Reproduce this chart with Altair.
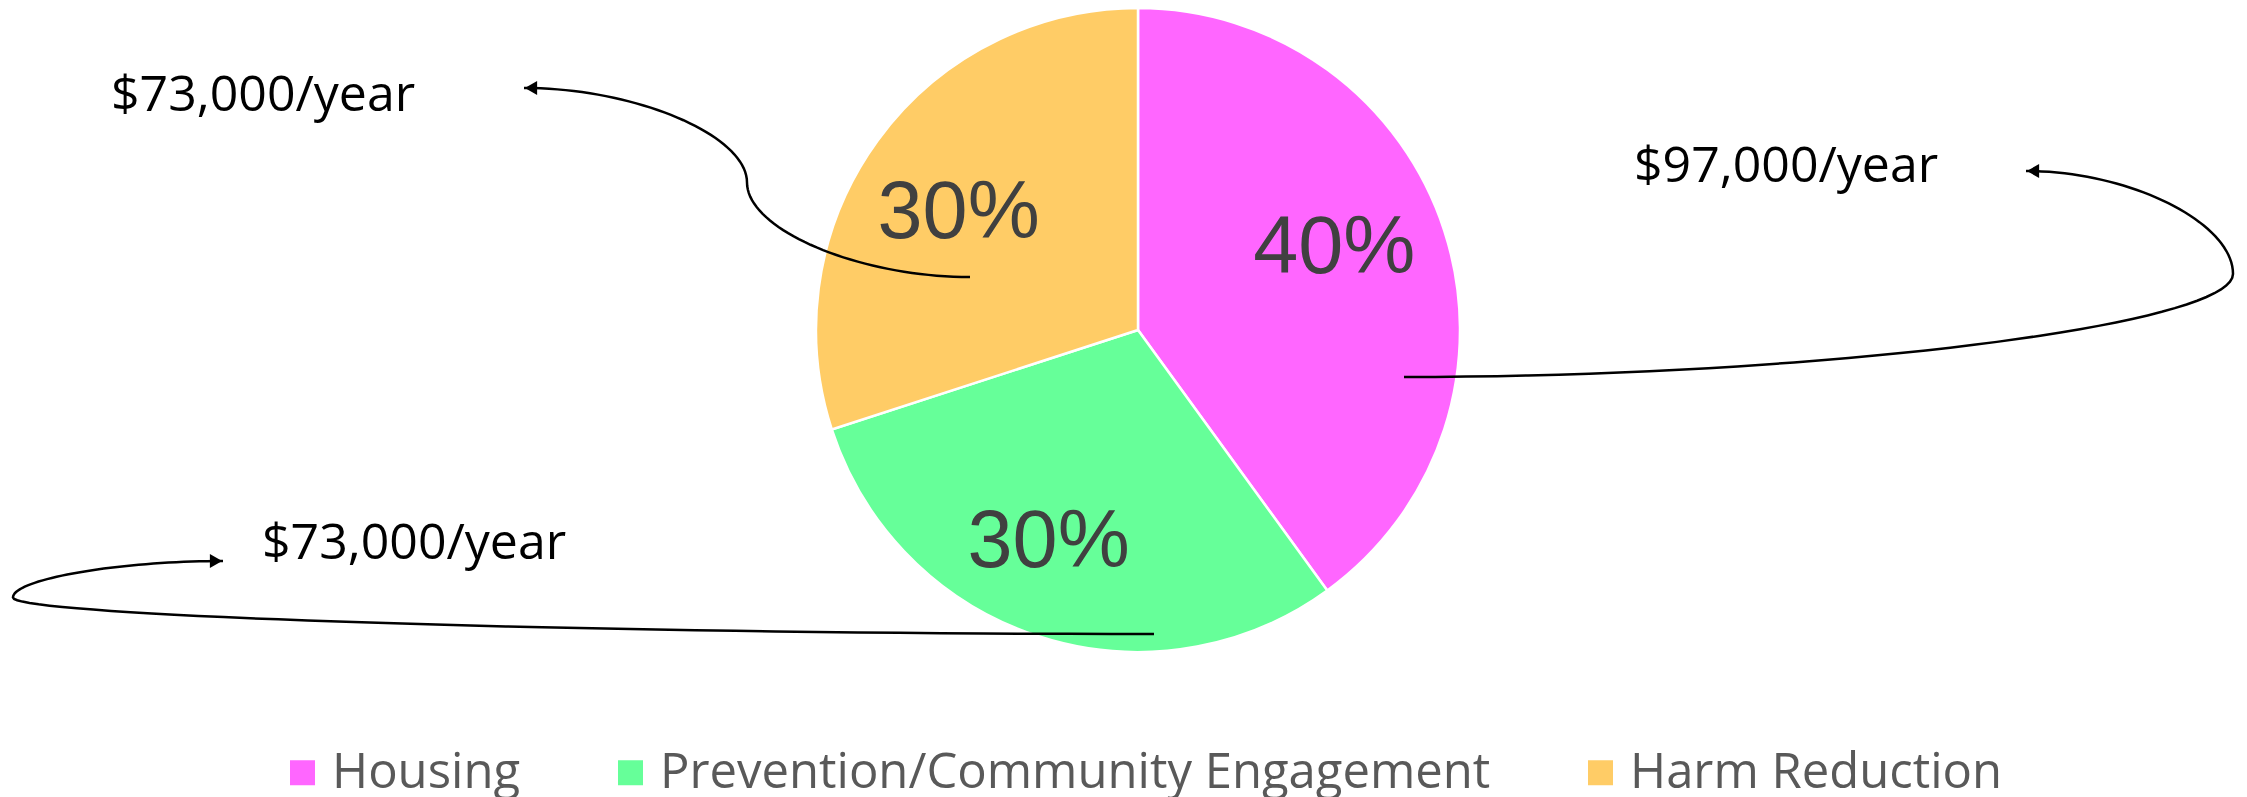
import altair as alt
import pandas as pd

# ---- data ----
categories = ["Housing", "Prevention/Community Engagement", "Harm Reduction"]
shares = [40, 30, 30]
share_labels = ["40%", "30%", "30%"]
colors = ["#FF66FF", "#66FF99", "#FFCC66"]

cost_labels = ["$73,000/year", "$97,000/year", "$73,000/year"]

# annotation geometry (chart pixel space, y measured from top)
W, H = 2231, 789
label_x = [103, 1626, 254]
label_y = [103, 174, 551]
# connectors: start point (inside slice), end point (at arrow tip), bend x
conn_start = [(962, 269), (1396, 369), (1146, 626)]
conn_end = [(516, 80), (2018, 163), (215, 553)]
conn_bend_x = [739, 2225, 5]
arrow_shape = ["triangle-left", "triangle-left", "triangle-right"]

# per-slice nudges for the percentage labels (pixels), in category order
pct_dx = [-11, -22, -3]
pct_dy = [-14, 6, 12]

PIE_CX, PIE_CY, PIE_R = 1130, 322, 322


def bez(p0, p1, p2, p3, n=40):
    pts = []
    for i in range(n + 1):
        t = i / n
        a = (1 - t) ** 3
        b = 3 * (1 - t) ** 2 * t
        c = 3 * (1 - t) * t ** 2
        d = t ** 3
        pts.append((a * p0[0] + b * p1[0] + c * p2[0] + d * p3[0],
                    a * p0[1] + b * p1[1] + c * p2[1] + d * p3[1]))
    return pts


def curved_connector(s, e, xb):
    ym = (s[1] + e[1]) / 2
    seg1 = bez(s, ((s[0] + xb) / 2, s[1]), (xb, (s[1] + ym) / 2), (xb, ym))
    seg2 = bez((xb, ym), (xb, (ym + e[1]) / 2), ((xb + e[0]) / 2, e[1]), e)
    return seg1 + seg2[1:]


rows = []
for k in range(3):
    for j, (px, py) in enumerate(curved_connector(conn_start[k], conn_end[k], conn_bend_x[k])):
        rows.append({"cid": k, "i": j, "px": px, "py": py})
conn_df = pd.DataFrame(rows)

arrow_rows = []
for k in range(3):
    ex, ey = conn_end[k]
    off = 7 if arrow_shape[k] == "triangle-left" else -7
    arrow_rows.append({"cid": k, "px": ex + off, "py": ey, "shape": arrow_shape[k]})
arrow_df = pd.DataFrame(arrow_rows)

pie_df = pd.DataFrame({"category": categories, "share": shares,
                       "label": share_labels, "idx": [0, 1, 2]})
text_df = pd.DataFrame({"text": cost_labels, "px": label_x, "py": label_y})

xs = alt.Scale(domain=[0, W], nice=False, zero=False)
ys = alt.Scale(domain=[H, 0], nice=False, zero=False)

color = alt.Color(
    "category:N",
    scale=alt.Scale(domain=categories, range=colors),
    legend=alt.Legend(
        title=None, orient="none", direction="horizontal",
        legendX=270, legendY=740, padding=0,
        symbolType="square", symbolSize=625, symbolStrokeWidth=0,
        labelFont="Open Sans", labelFontSize=49, labelColor="#595959",
        labelOffset=5, columnPadding=85, labelLimit=2000,
    ),
    sort=categories,
)

pie = alt.Chart(pie_df).mark_arc(outerRadius=PIE_R, stroke="white", strokeWidth=2.5).encode(
    theta=alt.Theta("share:Q", stack=True),
    color=color,
    order=alt.Order("idx:Q"),
    x=alt.value(PIE_CX),
    y=alt.value(PIE_CY),
)

pct_layers = []
for k in range(3):
    pct_layers.append(
        alt.Chart(pie_df).mark_text(
            radius=218, font="Liberation Sans", fontSize=81, color="#404040",
            dx=pct_dx[k], dy=pct_dy[k]
        ).encode(
            theta=alt.Theta("share:Q", stack=True),
            order=alt.Order("idx:Q"),
            text=alt.condition(alt.datum.idx == k, "label:N", alt.value("")),
            x=alt.value(PIE_CX),
            y=alt.value(PIE_CY),
        )
    )

lines = alt.Chart(conn_df).mark_line(color="black", strokeWidth=2.5).encode(
    x=alt.X("px:Q", scale=xs, axis=None),
    y=alt.Y("py:Q", scale=ys, axis=None),
    detail="cid:N",
    order="i:Q",
)

arrows = alt.Chart(arrow_df).mark_point(filled=True, color="black", size=200, opacity=1).encode(
    x=alt.X("px:Q", scale=xs, axis=None),
    y=alt.Y("py:Q", scale=ys, axis=None),
    shape=alt.Shape("shape:N", scale=None, legend=None),
)

cost = alt.Chart(text_df).mark_text(
    align="left", baseline="alphabetic", font="Open Sans", fontSize=50, color="black"
).encode(
    x=alt.X("px:Q", scale=xs, axis=None),
    y=alt.Y("py:Q", scale=ys, axis=None),
    text="text:N",
)

chart = alt.layer(pie, lines, arrows, *pct_layers, cost).properties(
    width=W, height=H, padding=0, autosize=alt.AutoSizeParams(type="none")
).resolve_scale(color="independent").configure_view(stroke=None)

chart.save("out.html", embed_options={"renderer": "svg", "actions": False})
